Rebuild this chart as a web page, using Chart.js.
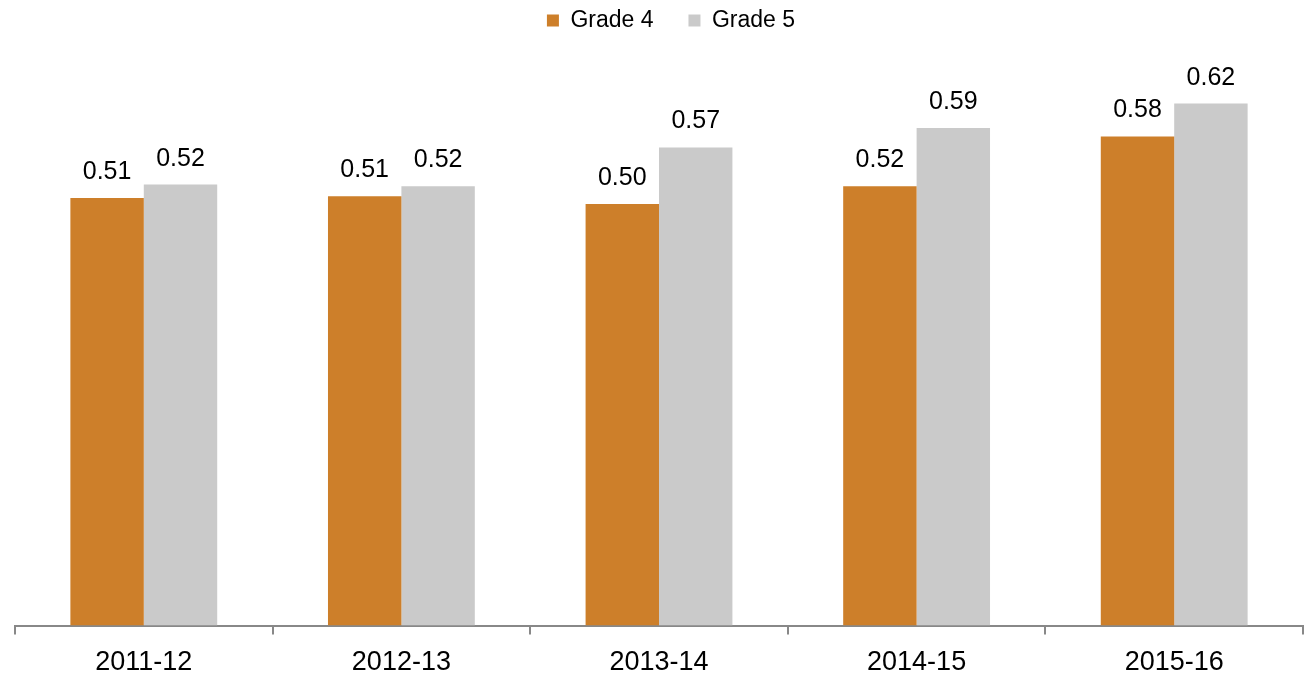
<!DOCTYPE html>
<html>
<head>
<meta charset="utf-8">
<script src="https://cdn.jsdelivr.net/npm/chart.js@4"></script>
<style>
  html, body { margin: 0; padding: 0; background: #fff; }
  #wrap { width: 1308px; height: 675px; }
</style>
</head>
<body>
<div id="wrap"><canvas id="chart" width="1308" height="675"></canvas></div>
<script>
// values
const years = ["2011-12", "2012-13", "2013-14", "2014-15", "2015-16"];
const grade4 = [0.507, 0.509, 0.500, 0.521, 0.580];
const grade5 = [0.523, 0.521, 0.567, 0.590, 0.619];

const FONT = "'Liberation Sans', Arial, sans-serif";

// draw value labels above the bars
const barLabels = {
  id: 'barLabels',
  afterDatasetsDraw(chart) {
    const ctx = chart.ctx;
    ctx.save();
    ctx.font = "25px " + FONT;
    ctx.fillStyle = "#000";
    ctx.textAlign = "center";
    ctx.textBaseline = "alphabetic";
    chart.data.datasets.forEach((ds, i) => {
      chart.getDatasetMeta(i).data.forEach((bar, j) => {
        ctx.fillText(ds.data[j].toFixed(2), bar.x, bar.y - 19);
      });
    });
    ctx.restore();
  }
};

// legend sits a little right of centre in the original
const nudgeLegend = {
  id: 'nudgeLegend',
  afterLayout(chart) {
    if (chart.legend) { chart.legend.left += 12; chart.legend.right += 12; }
  }
};

new Chart(document.getElementById('chart'), {
  type: 'bar',
  data: {
    labels: years,
    datasets: [
      { label: 'Grade 4', data: grade4, backgroundColor: '#CD7F2A' },
      { label: 'Grade 5', data: grade5, backgroundColor: '#CACACA' }
    ]
  },
  options: {
    responsive: false,
    animation: false,
    layout: { padding: { left: 15, right: 5, top: 6, bottom: -16 } },
    datasets: { bar: { categoryPercentage: 0.57, barPercentage: 1.0 } },
    plugins: {
      legend: {
        position: 'top',
        labels: {
          font: { size: 23, family: FONT },
          color: '#000',
          boxWidth: 12,
          boxHeight: 12,
          padding: 3,
          // extra space after the first item, like the original gap
          generateLabels(chart) {
            const items = Chart.defaults.plugins.legend.labels.generateLabels(chart);
            items[0].text = items[0].text + '     ';
            return items;
          }
        }
      },
      tooltip: { enabled: false }
    },
    scales: {
      x: {
        offset: true,
        grid: { display: true, drawOnChartArea: false, offset: true, tickLength: 9, color: '#888', lineWidth: 2 },
        border: { color: '#888', width: 2 },
        ticks: { color: '#000', font: { size: 27, family: FONT }, padding: 12 }
      },
      y: {
        display: false,
        min: 0,
        max: 0.692
      }
    }
  },
  plugins: [barLabels, nudgeLegend]
});
</script>
</body>
</html>
